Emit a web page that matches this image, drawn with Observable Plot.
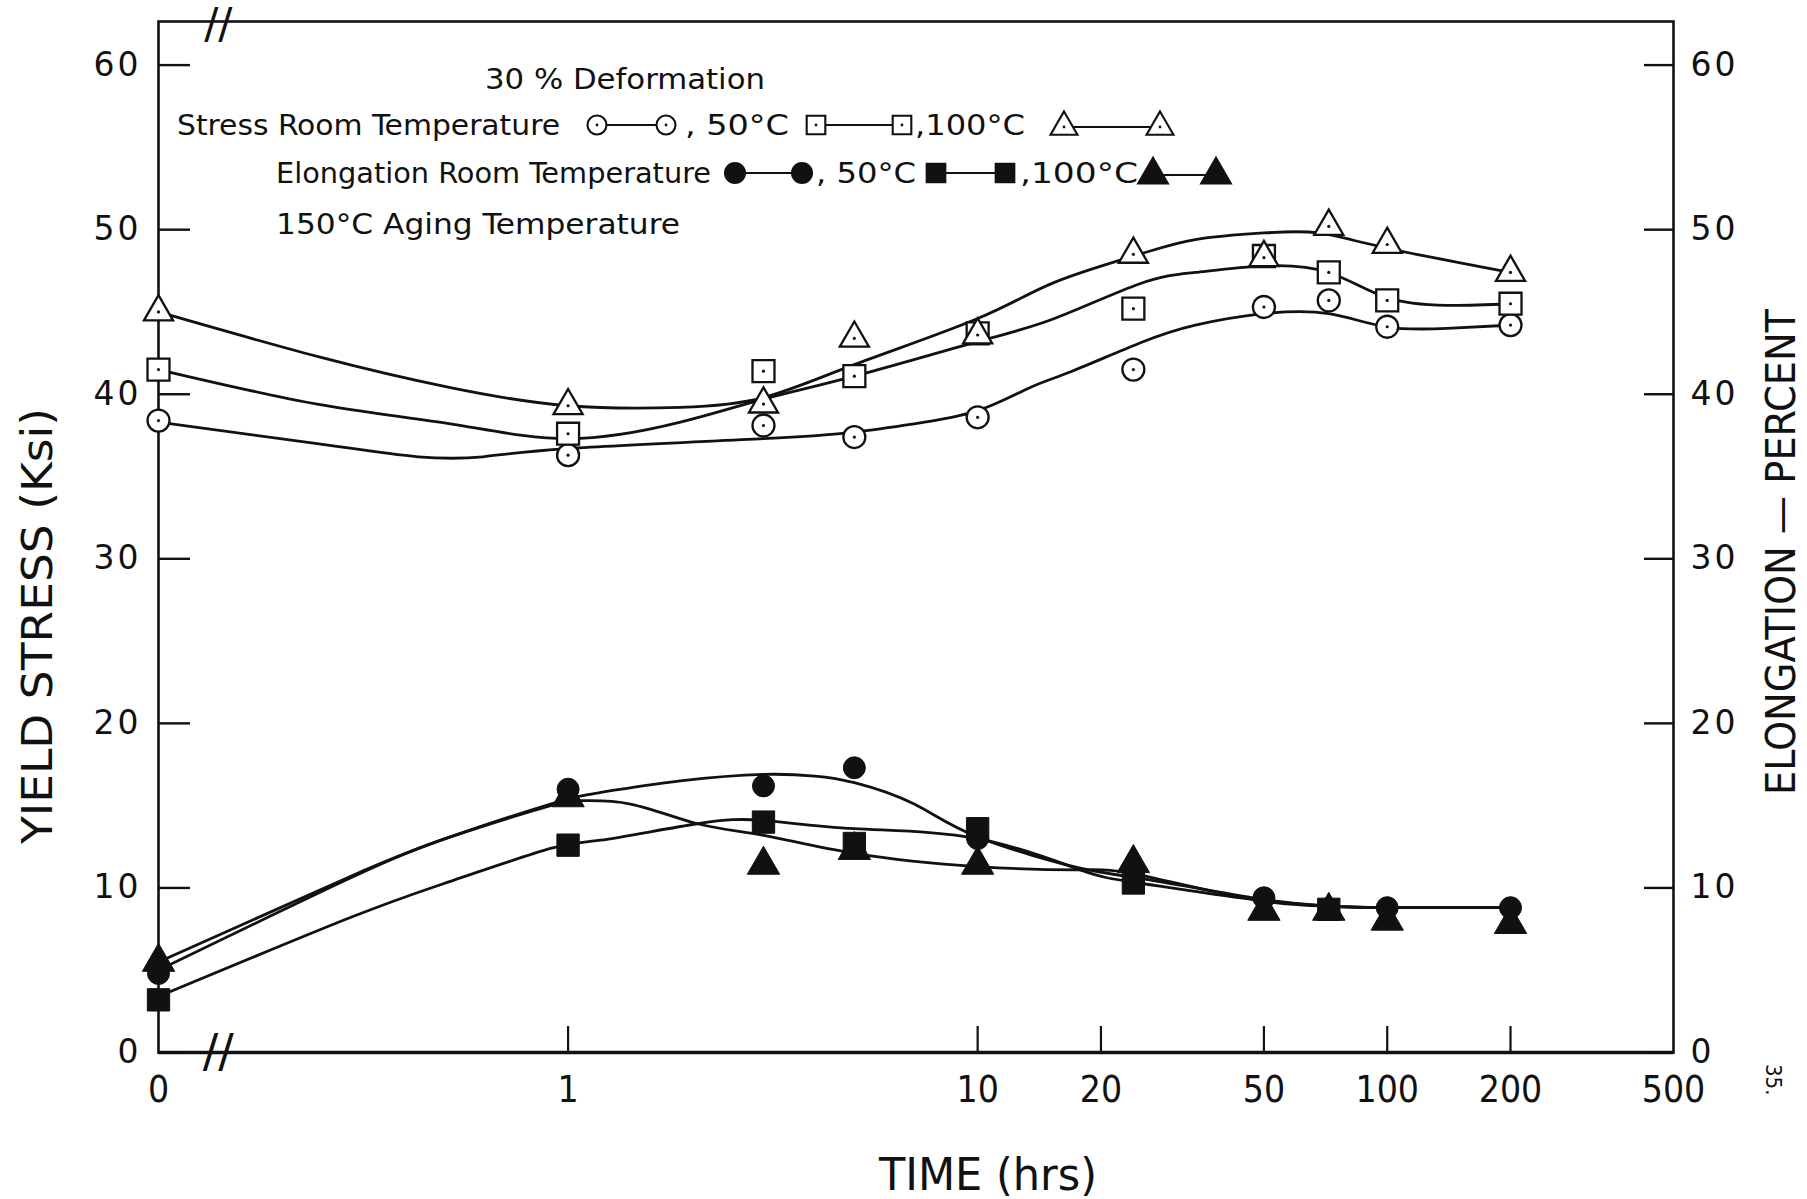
<!DOCTYPE html>
<html>
<head>
<meta charset="utf-8">
<script src="https://cdn.jsdelivr.net/npm/d3@7"></script>
<script src="https://cdn.jsdelivr.net/npm/@observablehq/plot@0.6"></script>
<style>
  body { margin: 0; background: #fff; }
  #chart { position: relative; width: 1807px; height: 1199px; }
  #chart svg { position: absolute; left: 0; top: 0; }
</style>
</head>
<body>
<div id="chart"></div>
<script>
// ---- Aging times (hrs); t = 0 sits at the origin of the broken log axis ----
const times = [0, 1, 3, 5, 10, 24, 50, 72, 100, 200];

// Yield stress (Ksi), 30 % deformation, 150°C aging
const stressRoom = [38.4, 36.3, 38.1, 37.4, 38.6, 41.5, 45.3, 45.7, 44.1, 44.2];
const stress50   = [41.5, 37.6, 41.4, 41.1, 43.7, 45.2, 48.4, 47.4, 45.7, 45.5];
const stress100  = [45.0, 39.3, 39.4, 43.4, 43.6, 48.5, 48.3, 50.2, 49.1, 47.4];

// Elongation (percent); null where no point was plotted
const elongRoom = [4.8, 16.0, 16.2, 17.3, 13.0, null, 9.4, null, 8.8, 8.8];
const elong50   = [3.2, 12.6, 14.0, 12.7, 13.6, 10.3, null, 8.7, null, null];
const elong100  = [5.5, 15.5, 11.4, 12.3, 11.4, 11.5, 8.6, 8.6, 8.0, 7.8];

// Hand-faired curves: [axis position (hrs), value]
const stressRoomCurve = [[0.1,38.3],[0.244,37.0],[0.43,36.2],[0.62,36.2],[1,36.7],[3,37.3],[5,37.7],[7,38.2],[10,39.0],[13.4,40.4],[17,41.4],[24.8,43.1],[34,44.2],[50,44.9],[72,44.9],[99,44.1],[140,44.0],[200,44.2]];
const stress50Curve   = [[0.1,41.5],[0.244,39.4],[0.516,38.2],[1,37.3],[1.88,38.3],[3,39.7],[5,41.1],[10,43.2],[15.4,44.6],[24.8,46.7],[34,47.4],[50,47.8],[72,47.4],[99,45.9],[140,45.4],[200,45.5]];
const stress100Curve  = [[0.1,45.0],[0.244,42.3],[0.516,40.4],[1,39.3],[1.88,39.2],[3,39.8],[5,41.8],[10,44.6],[15.4,46.8],[24.8,48.5],[34,49.4],[50,49.8],[68,49.8],[99,48.9],[200,47.4]];
const elongRoomCurve  = [[0.1,5.0],[0.294,10.6],[0.516,13.1],[0.906,15.1],[1.2,15.8],[1.88,16.5],[3,16.9],[4,16.8],[5,16.4],[7,15.1],[10,13.1],[17.8,11.2],[24.8,10.6],[47,9.4],[72,8.9],[100,8.8],[200,8.8]];
const elong50Curve    = [[0.1,3.4],[0.294,8.2],[0.516,10.4],[0.906,12.4],[1.2,12.9],[2.07,13.9],[3,14.1],[5,13.6],[10,13.0],[17.8,11.1],[24.8,10.3],[47,9.3],[72,8.9],[100,8.8],[200,8.8]];
const elong100Curve   = [[0.1,5.5],[0.294,10.7],[0.516,13.1],[0.906,15.0],[1.07,15.3],[1.42,15.1],[2.07,13.9],[3,13.2],[5,12.1],[10,11.3],[17.8,11.1],[24.8,10.8],[47,9.3],[72,8.9],[100,8.8],[200,8.8]];

// Axis ticks
const xTicks = [0.1, 1, 10, 20, 50, 100, 200, 500];
const xTickLabels = ["0", "1", "10", "20", "50", "100", "200", "500"];
const yTicks = [0, 10, 20, 30, 40, 50, 60];
const breakAt = [0.14];

// Texts
const yTitle = "YIELD  STRESS (Ksi)";
const y2Title = "ELONGATION — PERCENT";
const xTitle = "TIME  (hrs)";
const legendHeading = "30 % Deformation";
const legendStress = ["Stress Room Temperature", ", 50°C", ",100°C"];
const legendElong = ["Elongation Room Temperature", ", 50°C", ",100°C"];
const legendAging = "150°C Aging Temperature";
const pageNote = "35.";

const origin = 0.1;               // drawn position of t = 0
const at = t => (t === 0 ? origin : t);
const ink = "#111";
const condensed = "'DejaVu Sans Condensed', 'Liberation Sans Narrow', 'DejaVu Sans', sans-serif";

const pts = vals => times.map((t, i) => ({t: at(t), v: vals[i]})).filter(d => d.v != null);

const faired = c => Plot.line(c, {x: d => d[0], y: d => d[1], curve: "natural", stroke: ink, strokeWidth: 2.8});

const openMark = (vals, symbol, r) => [
  Plot.dot(pts(vals), {x: "t", y: "v", symbol, r, fill: "white", stroke: ink, strokeWidth: 2.3}),
  Plot.dot(pts(vals), {x: "t", y: "v", r: 1.6, fill: ink})
];
const solidMark = (vals, symbol, r) =>
  Plot.dot(pts(vals), {x: "t", y: "v", symbol, r, fill: ink, stroke: ink, strokeWidth: 1});

const chart = Plot.plot({
  width: 1807,
  height: 1199,
  marginLeft: 158,
  marginRight: 134,
  marginTop: 21,
  marginBottom: 147,
  x: {type: "log", domain: [origin, 500]},
  y: {domain: [0, 62.65]},
  style: {background: "white", color: ink, fontFamily: "'DejaVu Sans', sans-serif"},
  marks: [
    Plot.frame({stroke: ink, strokeWidth: 2.6}),
    Plot.ruleY([0], {stroke: ink, strokeWidth: 3.6}),

    // inward tick marks
    Plot.axisY({ticks: yTicks, anchor: "left", tickSize: 32, dx: 32, tickFormat: () => "", strokeWidth: 2.4, label: null}),
    Plot.axisY({ticks: yTicks, anchor: "right", tickSize: 30, dx: -30, tickFormat: () => "", strokeWidth: 2.4, label: null}),
    Plot.axisX({ticks: xTicks.slice(1, -1), anchor: "bottom", tickSize: 26, dy: -26, tickFormat: () => "", strokeWidth: 2.2, label: null}),

    // tick labels
    Plot.axisY({ticks: yTicks, anchor: "left", tickSize: 0, tickPadding: 17, fontSize: 33, label: null}),
    Plot.axisY({ticks: yTicks, anchor: "right", tickSize: 0, tickPadding: 17, fontSize: 33, label: null}),
    Plot.text(xTicks, {x: d => d, text: (d, i) => xTickLabels[i], frameAnchor: "bottom", lineAnchor: "top",
      dy: 23, fontSize: 37, fontFamily: condensed, fill: ink}),

    // axis break marks
    Plot.text(breakAt, {x: d => d, frameAnchor: "top", lineAnchor: "middle", text: () => "//", fontSize: 42, dy: 3, fill: ink}),
    Plot.text(breakAt, {x: d => d, frameAnchor: "bottom", lineAnchor: "middle", text: () => "//", fontSize: 46, fill: ink}),

    // faired curves
    faired(stressRoomCurve), faired(stress50Curve), faired(stress100Curve),
    faired(elongRoomCurve), faired(elong50Curve), faired(elong100Curve),

    // stress: open symbols with centre dots
    ...openMark(stressRoom, "circle", 11),
    ...openMark(stress50, "square", 12.4),
    ...openMark(stress100, "triangle", 10.8),

    // elongation: solid symbols
    solidMark(elongRoom, "circle", 11),
    solidMark(elong50, "square", 12.6),
    solidMark(elong100, "triangle", 12)
  ]
});

document.getElementById("chart").appendChild(chart);

d3.select(chart).selectAll('g[aria-label="y-axis tick label"] text').style("letter-spacing", "3px");

// ---- titles, legend and page note ----
const over = d3.select("#chart").append("svg")
  .attr("width", 1807).attr("height", 1199)
  .style("pointer-events", "none");

const txt = (s, x, y, size, len, attrs = {}) => {
  const t = over.append("text")
    .attr("x", x).attr("y", y)
    .attr("font-family", condensed)
    .attr("font-size", size)
    .attr("fill", ink)
    .text(s);
  if (len) t.attr("textLength", len).attr("lengthAdjust", "spacingAndGlyphs");
  for (const k in attrs) t.attr(k, attrs[k]);
  return t;
};

// axis titles
txt(yTitle, 0, 0, 42, 436, {"text-anchor": "middle", transform: "translate(52,626) rotate(-90)"});
txt(y2Title, 0, 0, 40, 486, {"text-anchor": "middle", transform: "translate(1795,552) rotate(-90)"});
txt(xTitle, 988, 1190, 44, 218, {"text-anchor": "middle"});
txt(pageNote, 0, 0, 22, null, {transform: "translate(1766,1064) rotate(90)"});

// legend
const sym = (type, x, y, r, filled) => {
  const size = Math.PI * r * r;
  over.append("path")
    .attr("transform", `translate(${x},${y})`)
    .attr("d", d3.symbol(type, size)())
    .attr("fill", filled ? ink : "white")
    .attr("stroke", ink)
    .attr("stroke-width", 2.1);
  if (!filled) over.append("circle").attr("cx", x).attr("cy", y).attr("r", 1.4).attr("fill", ink);
};
const pair = (type, x1, x2, y, r, filled) => {
  over.append("line").attr("x1", x1).attr("x2", x2).attr("y1", y).attr("y2", y)
    .attr("stroke", ink).attr("stroke-width", 2.2);
  sym(type, x1, y, r, filled);
  sym(type, x2, y, r, filled);
};

txt(legendHeading, 485, 89, 29, 280);

txt(legendStress[0], 177, 135, 29, 383);
pair(d3.symbolCircle, 597, 666, 125, 9.5, false);
txt(legendStress[1], 685, 135, 29, 104);
pair(d3.symbolSquare, 816, 902, 125, 10.5, false);
txt(legendStress[2], 915, 135, 29, 110);
pair(d3.symbolTriangle, 1064, 1160, 127, 10, false);

txt(legendElong[0], 276, 183, 29, 435);
pair(d3.symbolCircle, 735, 802, 173, 10, true);
txt(legendElong[1], 816, 183, 29, 100);
pair(d3.symbolSquare, 936, 1005, 173, 10.5, true);
txt(legendElong[2], 1020, 183, 29, 118);
pair(d3.symbolTriangle, 1153, 1216, 175, 11, true);

txt(legendAging, 276, 234, 29, 404);
</script>
</body>
</html>
